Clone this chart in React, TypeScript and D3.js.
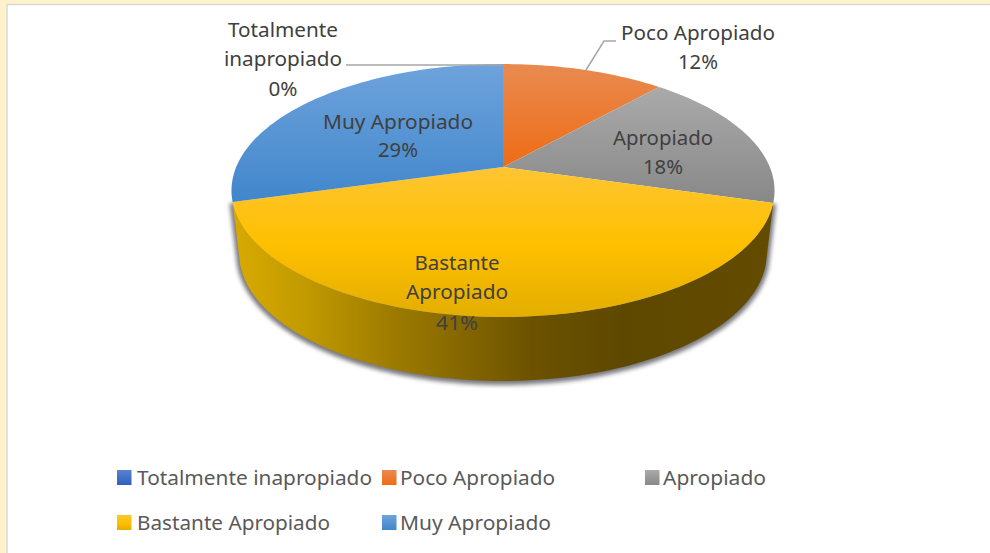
import React from "react";
import * as d3 from "d3";

const categories = ["Totalmente inapropiado", "Poco Apropiado", "Apropiado", "Bastante Apropiado", "Muy Apropiado"];
const shares = [0, 11.6, 17.9, 41.1, 29.4];
const gradientStops = [
  ["#5b82d0", "#2f5fbd"],
  ["#e98a50", "#ee6c15"],
  ["#aaaaaa", "#888888"],
  ["#fdc533", "#ffc000", "#e3ae00"],
  ["#6ea3dc", "#4186cb"],
];
const legendRows = [[117, 474], [382, 474], [645, 474], [117, 519], [382, 519]];
const legendWidths = [235, 155, 103, 193, 151];
const dataLabels: [string, number, number, number][] = [
  ["Totalmente", 283, 37, 110],
  ["inapropiado", 283, 66, 118],
  ["0%", 283, 96, 29],
  ["Poco Apropiado", 698, 40, 154],
  ["12%", 698, 69, 40],
  ["Apropiado", 663, 145, 100],
  ["18%", 663, 174, 40],
  ["Muy Apropiado", 398, 129, 150],
  ["29%", 398, 157, 40],
  ["Bastante", 457, 270, 85],
  ["Apropiado", 457, 299, 102],
  ["41%", 457, 330, 42],
];

const cx = 503, cy = 167, k = 0.1858, a = 266.8, b = 122.1;
const project = (t: number, sx = 1, sy = 1, y0 = cy) => {
  const u = Math.sin(t), v = -Math.cos(t), w = 1 - k * v;
  return [cx + (sx * a * u) / w, y0 + (sy * b * v) / w] as [number, number];
};
const arcPts = (t0: number, t1: number, sx = 1, sy = 1, y0 = cy) => {
  const n = Math.max(2, Math.ceil(Math.abs(t1 - t0) * 40));
  return d3.range(n + 1).map((i) => project(t0 + ((t1 - t0) * i) / n, sx, sy, y0));
};
const line = d3.line();
const slices = d3.pie<number>().sort(null).value((d) => d)(shares);
const yellow = slices[3];
const wallPath =
  line([...arcPts(yellow.startAngle, yellow.endAngle), ...arcPts(yellow.endAngle, yellow.startAngle, 0.972, 1.012, 229.2)]) + "Z";
const FONT = "'Noto Sans', sans-serif";

export default function App() {
  return (
    <svg width={990} height={553} style={{ position: "fixed", left: 0, top: 0, display: "block" }}>
      <defs>
        {gradientStops.map((st, i) => (
          <linearGradient key={i} id={`g${i}`} x1="0" y1="0" x2="0" y2="1">
            {st.map((c, j) => (
              <stop key={j} offset={j / (st.length - 1)} stopColor={c} />
            ))}
          </linearGradient>
        ))}
        <linearGradient id="wall" gradientUnits="userSpaceOnUse" x1="234" y1="0" x2="775" y2="0">
          <stop offset="0" stopColor="#d8a900" />
          <stop offset="0.12" stopColor="#c49c00" />
          <stop offset="0.3" stopColor="#9c7a00" />
          <stop offset="0.55" stopColor="#6c5200" />
          <stop offset="0.72" stopColor="#5e4800" />
          <stop offset="1" stopColor="#634c00" />
        </linearGradient>
        <filter id="blur" x="-10%" y="-10%" width="120%" height="120%">
          <feGaussianBlur stdDeviation="2" />
        </filter>
      </defs>
      <rect width={990} height={553} fill="#fff2cc" />
      <rect x={7} y={4.5} width={990} height={560} fill="#ffffff" stroke="#d9d9d9" strokeWidth={1.5} />

      <path d={wallPath} fill="#404048" stroke="#404048" strokeWidth={6} opacity={0.7} filter="url(#blur)" transform="translate(0,1)" />
      <path d={wallPath} fill="url(#wall)" />
      {slices.map((s, i) =>
        s.value > 0 ? (
          <path key={i} d={line([[cx, cy], ...arcPts(s.startAngle, s.endAngle)]) + "Z"} fill={`url(#g${i})`} />
        ) : null
      )}

      <polyline points="346,65 503,65" fill="none" stroke="#a6a6a6" strokeWidth={1.5} />
      <polyline points="616,41 604,41 586,70" fill="none" stroke="#a6a6a6" strokeWidth={1.5} />

      {dataLabels.map(([t, x, y, w], i) => (
        <text key={i} x={x} y={y} textAnchor="middle" fontFamily={FONT} fontSize={19.5} fill="#404040"
          textLength={w} lengthAdjust="spacingAndGlyphs">{t}</text>
      ))}

      {categories.map((c, i) => (
        <g key={c}>
          <rect x={legendRows[i][0]} y={legendRows[i][1] - 4} width={14.5} height={15} fill={`url(#g${i})`} />
          <text x={legendRows[i][0] + (i === 0 || i === 3 ? 20 : 18)} y={legendRows[i][1] + 11} fontFamily={FONT}
            fontSize={19.5} fill="#595959" textLength={legendWidths[i]} lengthAdjust="spacingAndGlyphs">{c}</text>
        </g>
      ))}
    </svg>
  );
}
